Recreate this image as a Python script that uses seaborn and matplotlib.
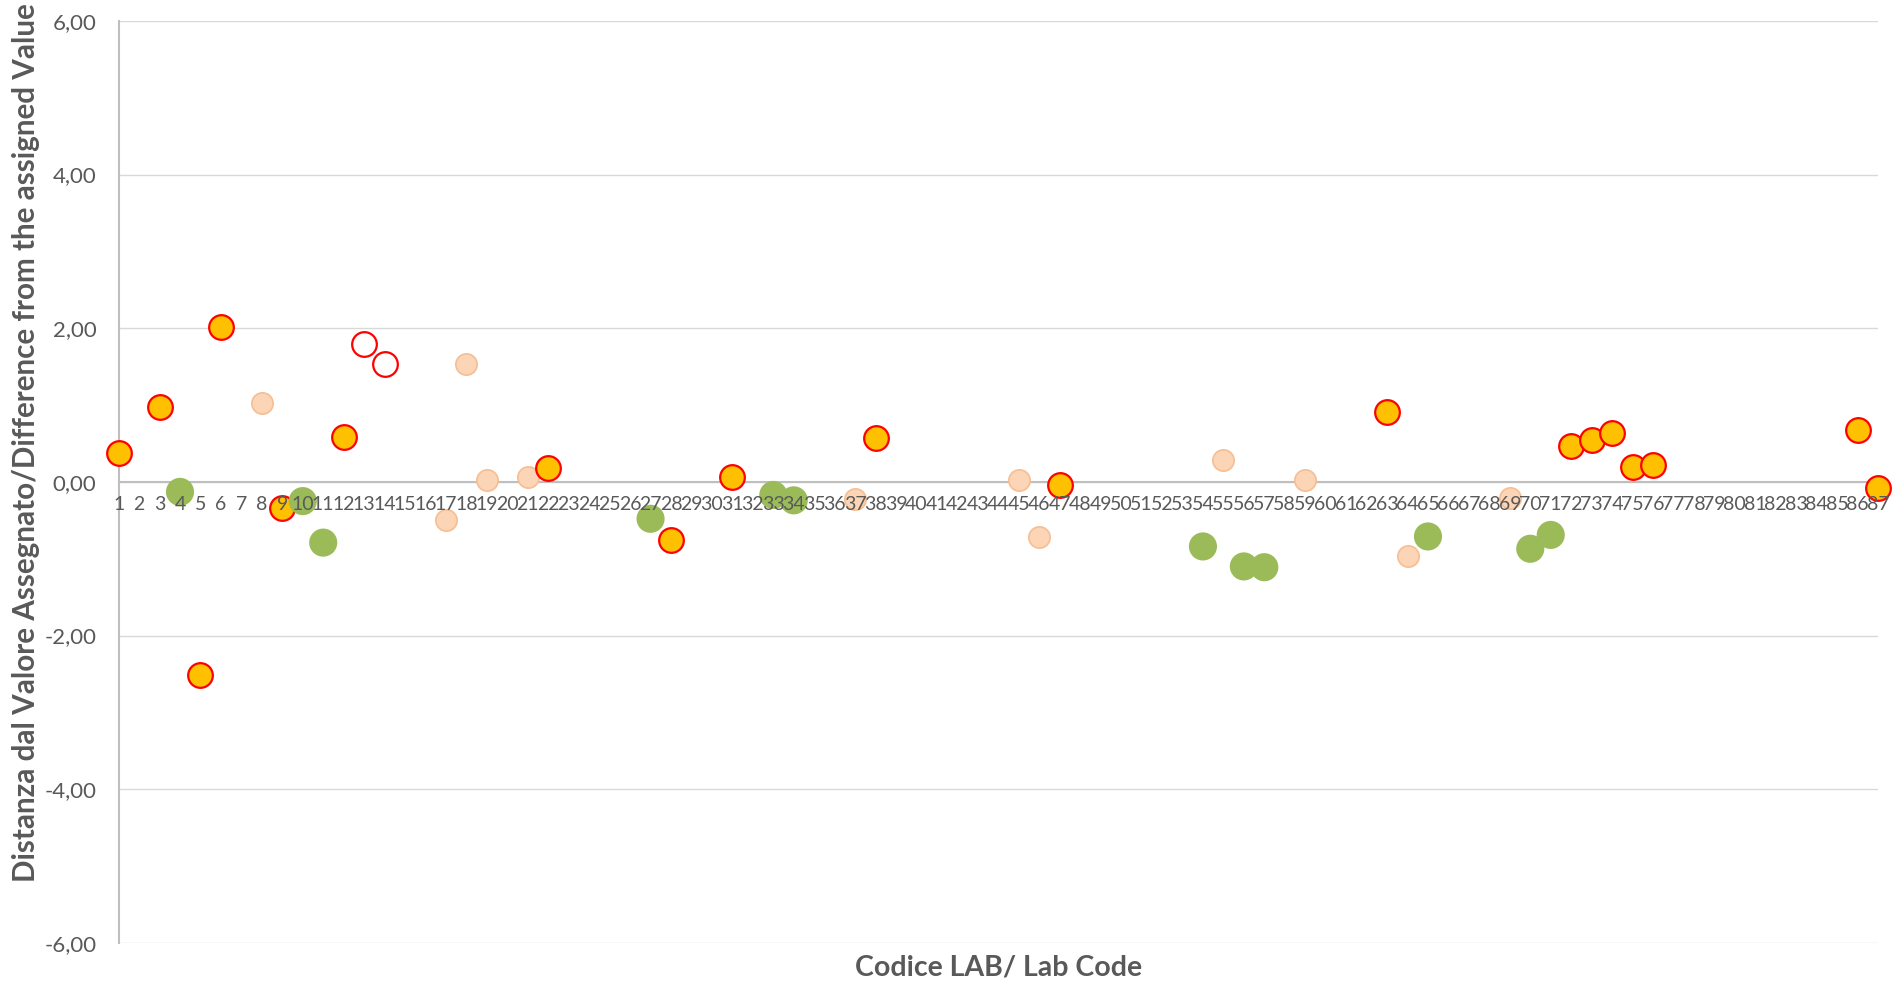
import numpy as np
import pandas as pd
import matplotlib
matplotlib.use('Agg')
import matplotlib.pyplot as plt
import seaborn as sns

# lab codes on the category axis
lab_codes = list(range(1, 88))
y_ticks = [-6, -4, -2, 0, 2, 4, 6]

# results split by the colour they are drawn with
orange_codes = [1, 3, 5, 6, 9, 12, 22, 28, 31, 38, 47, 63, 72, 73, 74, 75, 76, 86, 87]
orange_vals = [0.37, 0.97, -2.51, 2.01, -0.34, 0.59, 0.18, -0.76, 0.07, 0.57, -0.04, 0.91,
               0.47, 0.54, 0.63, 0.20, 0.22, 0.68, -0.08]

green_codes = [4, 10, 11, 27, 33, 34, 54, 56, 57, 65, 70, 71]
green_vals = [-0.13, -0.25, -0.79, -0.48, -0.17, -0.24, -0.84, -1.10, -1.11, -0.71, -0.87, -0.69]

peach_codes = [8, 17, 18, 19, 21, 37, 45, 46, 55, 59, 64, 69]
peach_vals = [1.03, -0.49, 1.53, 0.03, 0.07, -0.22, 0.03, -0.72, 0.28, 0.03, -0.97, -0.21]

hollow_codes = [13, 14]
hollow_vals = [1.79, 1.54]

df = pd.concat([
    pd.DataFrame({'code': peach_codes, 'value': peach_vals, 'group': 'peach'}),
    pd.DataFrame({'code': orange_codes, 'value': orange_vals, 'group': 'orange'}),
    pd.DataFrame({'code': hollow_codes, 'value': hollow_vals, 'group': 'hollow'}),
    pd.DataFrame({'code': green_codes, 'value': green_vals, 'group': 'green'}),
], ignore_index=True)

styles = {
    'peach': dict(face='#FBD5B5', edge='#F6BE92', lw=1.2, s=235),
    'orange': dict(face='#FFC000', edge='#FF0000', lw=1.6, s=315),
    'hollow': dict(face='white', edge='#FF0000', lw=1.6, s=315),
    'green': dict(face='#9BBB59', edge='none', lw=0, s=410),
}

sns.set_style('white')
plt.rcParams['font.family'] = ['Lato', 'DejaVu Sans']

fig, ax = plt.subplots(figsize=(18.98, 9.93), dpi=100)
fig.subplots_adjust(left=0.0625, right=0.9895, top=0.979, bottom=0.0504)

# horizontal gridlines behind everything
for y in y_ticks:
    ax.axhline(y, color='#D9D9D9', lw=1.0, zorder=0)

for grp in ['peach', 'orange', 'hollow', 'green']:
    st = styles[grp]
    sub = df[df['group'] == grp]
    sns.scatterplot(data=sub, x='code', y='value', ax=ax, s=st['s'], color=st['face'],
                    edgecolor=st['edge'], linewidth=st['lw'], clip_on=False, zorder=2,
                    legend=False)

ax.set_xlim(1, 87)
ax.set_ylim(-6, 6)
ax.set_xticks(lab_codes)
ax.set_xticklabels([str(c) for c in lab_codes])
ax.set_yticks(y_ticks)
ax.yaxis.set_major_formatter(plt.FuncFormatter(lambda v, p: f'{v:.2f}'.replace('.', ',')))

ax.tick_params(axis='x', length=0, pad=10, labelsize=14, labelcolor='#595959')
ax.tick_params(axis='y', length=0, pad=16, labelsize=16, labelcolor='#595959')

# category axis crosses at zero, like the excel chart
ax.spines['bottom'].set_position(('data', 0))
for side in ['bottom', 'left']:
    ax.spines[side].set_color('#BFBFBF')
    ax.spines[side].set_linewidth(1.5)
    ax.spines[side].set_zorder(1)
ax.spines['top'].set_visible(False)
ax.spines['right'].set_visible(False)

# tick labels sit on top of the markers
ax.xaxis.set_zorder(3)
ax.yaxis.set_zorder(3)

ax.set_xlabel('Codice LAB/ Lab Code', fontsize=20.5, fontweight='bold', color='#595959')
ax.xaxis.set_label_coords(0.5, -0.012)
ax.set_ylabel('Distanza dal Valore Assegnato/Difference from the assigned Value',
              fontsize=21.3, fontweight='bold', color='#595959')
ax.yaxis.set_label_coords(-0.0445, 0.543)

plt.savefig('out.png', dpi=100)
plt.close()
